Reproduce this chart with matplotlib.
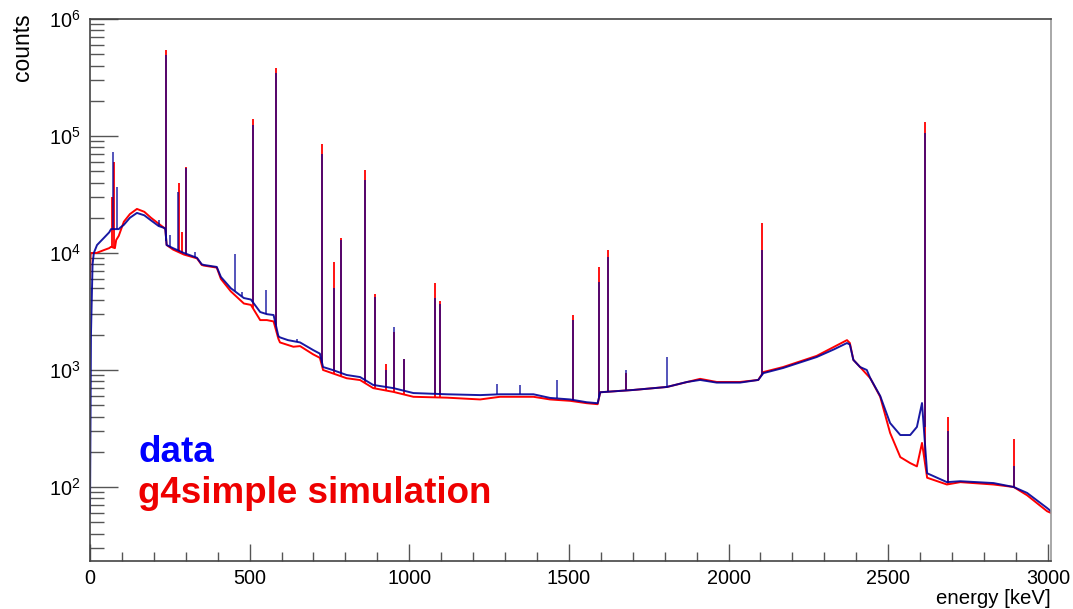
import numpy as np
import matplotlib
matplotlib.use("Agg")
import matplotlib.pyplot as plt
from matplotlib.ticker import FixedLocator, LogLocator, NullFormatter, FuncFormatter

plt.rcParams['font.family'] = ['Liberation Sans', 'DejaVu Sans']
plt.rcParams['mathtext.fontset'] = 'custom'
plt.rcParams['mathtext.rm'] = 'Liberation Sans'
plt.rcParams['mathtext.default'] = 'regular'

# continuum (energy in keV, counts)
data_E = [0, 3, 8, 12, 22, 44, 60, 66, 90, 95, 106, 125, 147, 170, 191, 215, 232, 236,
          240, 260, 294, 335, 350, 357, 397, 410, 441, 482, 504, 533, 554, 575, 590,
          595, 620, 658, 699, 720, 730, 760, 804, 846, 887, 950, 1013, 1118, 1222,
          1284, 1389, 1441, 1504, 1556, 1590, 1598, 1702, 1807, 1870, 1911, 1963,
          2036, 2093, 2109, 2171, 2276, 2330, 2371, 2380, 2391, 2412, 2433, 2444,
          2475, 2506, 2538, 2569, 2590, 2606, 2622, 2684, 2726, 2830, 2893, 2935,
          2998, 3010]
data_cts = [60, 2000, 8000, 10000, 11700, 13500, 15000, 16000, 16000, 16500, 17400,
            20000, 22000, 21000, 19000, 17000, 16400, 16000, 11700, 11000, 10000, 9100,
            8000, 7900, 7600, 6240, 5000, 4120, 4000, 3130, 3000, 2950, 1950, 1900,
            1800, 1720, 1480, 1380, 1060, 1000, 906, 870, 745, 700, 635, 620, 610, 620,
            620, 577, 560, 530, 520, 645, 675, 716, 790, 822, 780, 780, 822, 940, 1040,
            1290, 1500, 1700, 1650, 1220, 1060, 1000, 850, 600, 352, 278, 278, 326, 522,
            131, 110, 112, 108, 100, 89, 66, 62]

sim_E = [0, 2, 20, 44, 60, 66, 78, 82, 90, 106, 125, 147, 170, 191, 215, 232, 236,
         240, 260, 294, 335, 350, 357, 397, 410, 441, 482, 504, 533, 554, 575, 590,
         595, 637, 658, 699, 720, 730, 804, 846, 887, 950, 1013, 1118, 1222, 1284,
         1389, 1441, 1504, 1556, 1590, 1598, 1702, 1807, 1911, 1963, 2036, 2093, 2109,
         2171, 2276, 2371, 2380, 2391, 2412, 2444, 2475, 2506, 2538, 2569, 2590,
         2606, 2622, 2684, 2726, 2830, 2893, 2935, 2998, 3010]
sim_cts = [6000, 10000, 10000, 10600, 11000, 11300, 11000, 12900, 14000, 18500, 21500,
           23800, 22500, 20000, 17800, 16400, 16000, 11700, 10700, 9700, 9000, 7900,
           7800, 7500, 6000, 4700, 3700, 3600, 2670, 2670, 2600, 1850, 1720, 1580, 1600,
           1360, 1270, 1000, 850, 820, 700, 650, 590, 580, 560, 590, 590, 560, 545, 520,
           510, 645, 675, 716, 840, 790, 790, 822, 960, 1060, 1320, 1800, 1700, 1220,
           1060, 850, 590, 290, 180, 160, 150, 238, 120, 105, 110, 105, 100, 85, 62,
           60]

# gamma lines: energy (keV) and peak height (counts)
data_peak_E = [72, 84, 217, 239, 251, 276, 300, 328, 454, 475, 510, 551, 583, 649, 727,
               764, 787, 861, 893, 927, 952, 983, 1080, 1096, 1274, 1347, 1462, 1513,
               1594, 1621, 1680, 1807, 2104, 2614, 2688, 2893]
data_peak_cts = [73000, 36600, 19000, 492000, 14300, 33000, 53000, 10200, 9800, 4650,
                 124000, 4870, 345000, 1840, 70000, 5000, 12900, 42000, 4200, 1000, 2340,
                 1230, 4100, 3700, 760, 740, 820, 2700, 5600, 9300, 1000, 1290, 10600,
                 106000, 300, 150]

sim_peak_E = [68, 74, 239, 279, 288, 300, 510, 583, 727, 764, 787, 861, 893, 927, 952,
              983, 1080, 1096, 1513, 1594, 1621, 1680, 2104, 2614, 2688, 2893]
sim_peak_cts = [30000, 60000, 543000, 40000, 15100, 54000, 140000, 381000, 86000, 8400,
                13500, 51000, 4500, 1120, 2100, 1230, 5500, 3900, 2950, 7600, 10600, 950,
                18000, 132000, 400, 255]

fig = plt.figure(figsize=(10.73, 6.09), dpi=100)
ax = fig.add_axes([90 / 1073, 48 / 609, 961 / 1073, 542 / 609])

data_col = '#000099'
sim_col = '#ff0000'

# simulation underneath, data on top
ax.plot(sim_E, sim_cts, color=sim_col, lw=1.4)
ax.vlines(sim_peak_E, np.interp(sim_peak_E, sim_E, sim_cts), sim_peak_cts,
          color=sim_col, lw=1.3)
ax.plot(data_E, data_cts, color=data_col, lw=1.4, alpha=0.9)
ax.vlines(data_peak_E, np.interp(data_peak_E, data_E, data_cts), data_peak_cts,
          color=data_col, lw=1.1, alpha=0.85)

ax.set_yscale('log')
ax.set_xlim(0, 3010)
ax.set_ylim(23.3, 1e6)

# ROOT-like ticks: inside, left and bottom only
ax.xaxis.set_major_locator(FixedLocator([0, 500, 1000, 1500, 2000, 2500, 3000]))
ax.xaxis.set_minor_locator(FixedLocator(np.arange(0, 3001, 100)))
ax.yaxis.set_major_locator(LogLocator(base=10, numticks=10))
ax.yaxis.set_minor_locator(LogLocator(base=10, subs=np.arange(2, 10), numticks=20))
ax.yaxis.set_minor_formatter(NullFormatter())
ax.yaxis.set_major_formatter(FuncFormatter(lambda v, p: r'$10^{%d}$' % round(np.log10(v))))

tc = '#555555'
ax.tick_params(axis='x', which='major', direction='in', length=12.5, width=1.0,
               color=tc, labelsize=14.3, pad=6)
ax.tick_params(axis='x', which='minor', direction='in', length=6.5, width=1.0, color=tc)
ax.tick_params(axis='y', which='major', direction='in', length=20, width=1.0,
               color=tc, labelsize=14.3, pad=7)
ax.tick_params(axis='y', which='minor', direction='in', length=10, width=1.0, color=tc)

for s in ['left', 'bottom', 'top']:
    ax.spines[s].set_color('#444444')
ax.spines['right'].set_color('#999999')
for s in ax.spines.values():
    s.set_linewidth(1.2)

fig.text(22 / 1073, 1 - 13 / 609, 'counts', rotation=90, ha='center', va='top',
         fontsize=16.5)
fig.text(1051 / 1073, 1 - 604 / 609, 'energy [keV]', ha='right', va='baseline',
         fontsize=14.7)

fig.text(138 / 1073, 1 - 462 / 609, 'data', color='#0000ff', fontsize=26.5,
         fontweight='bold', va='baseline')
fig.text(138 / 1073, 1 - 503 / 609, 'g4simple simulation', color='#ee0000',
         fontsize=26.5, fontweight='bold', va='baseline')

fig.savefig('out.png', dpi=100)
